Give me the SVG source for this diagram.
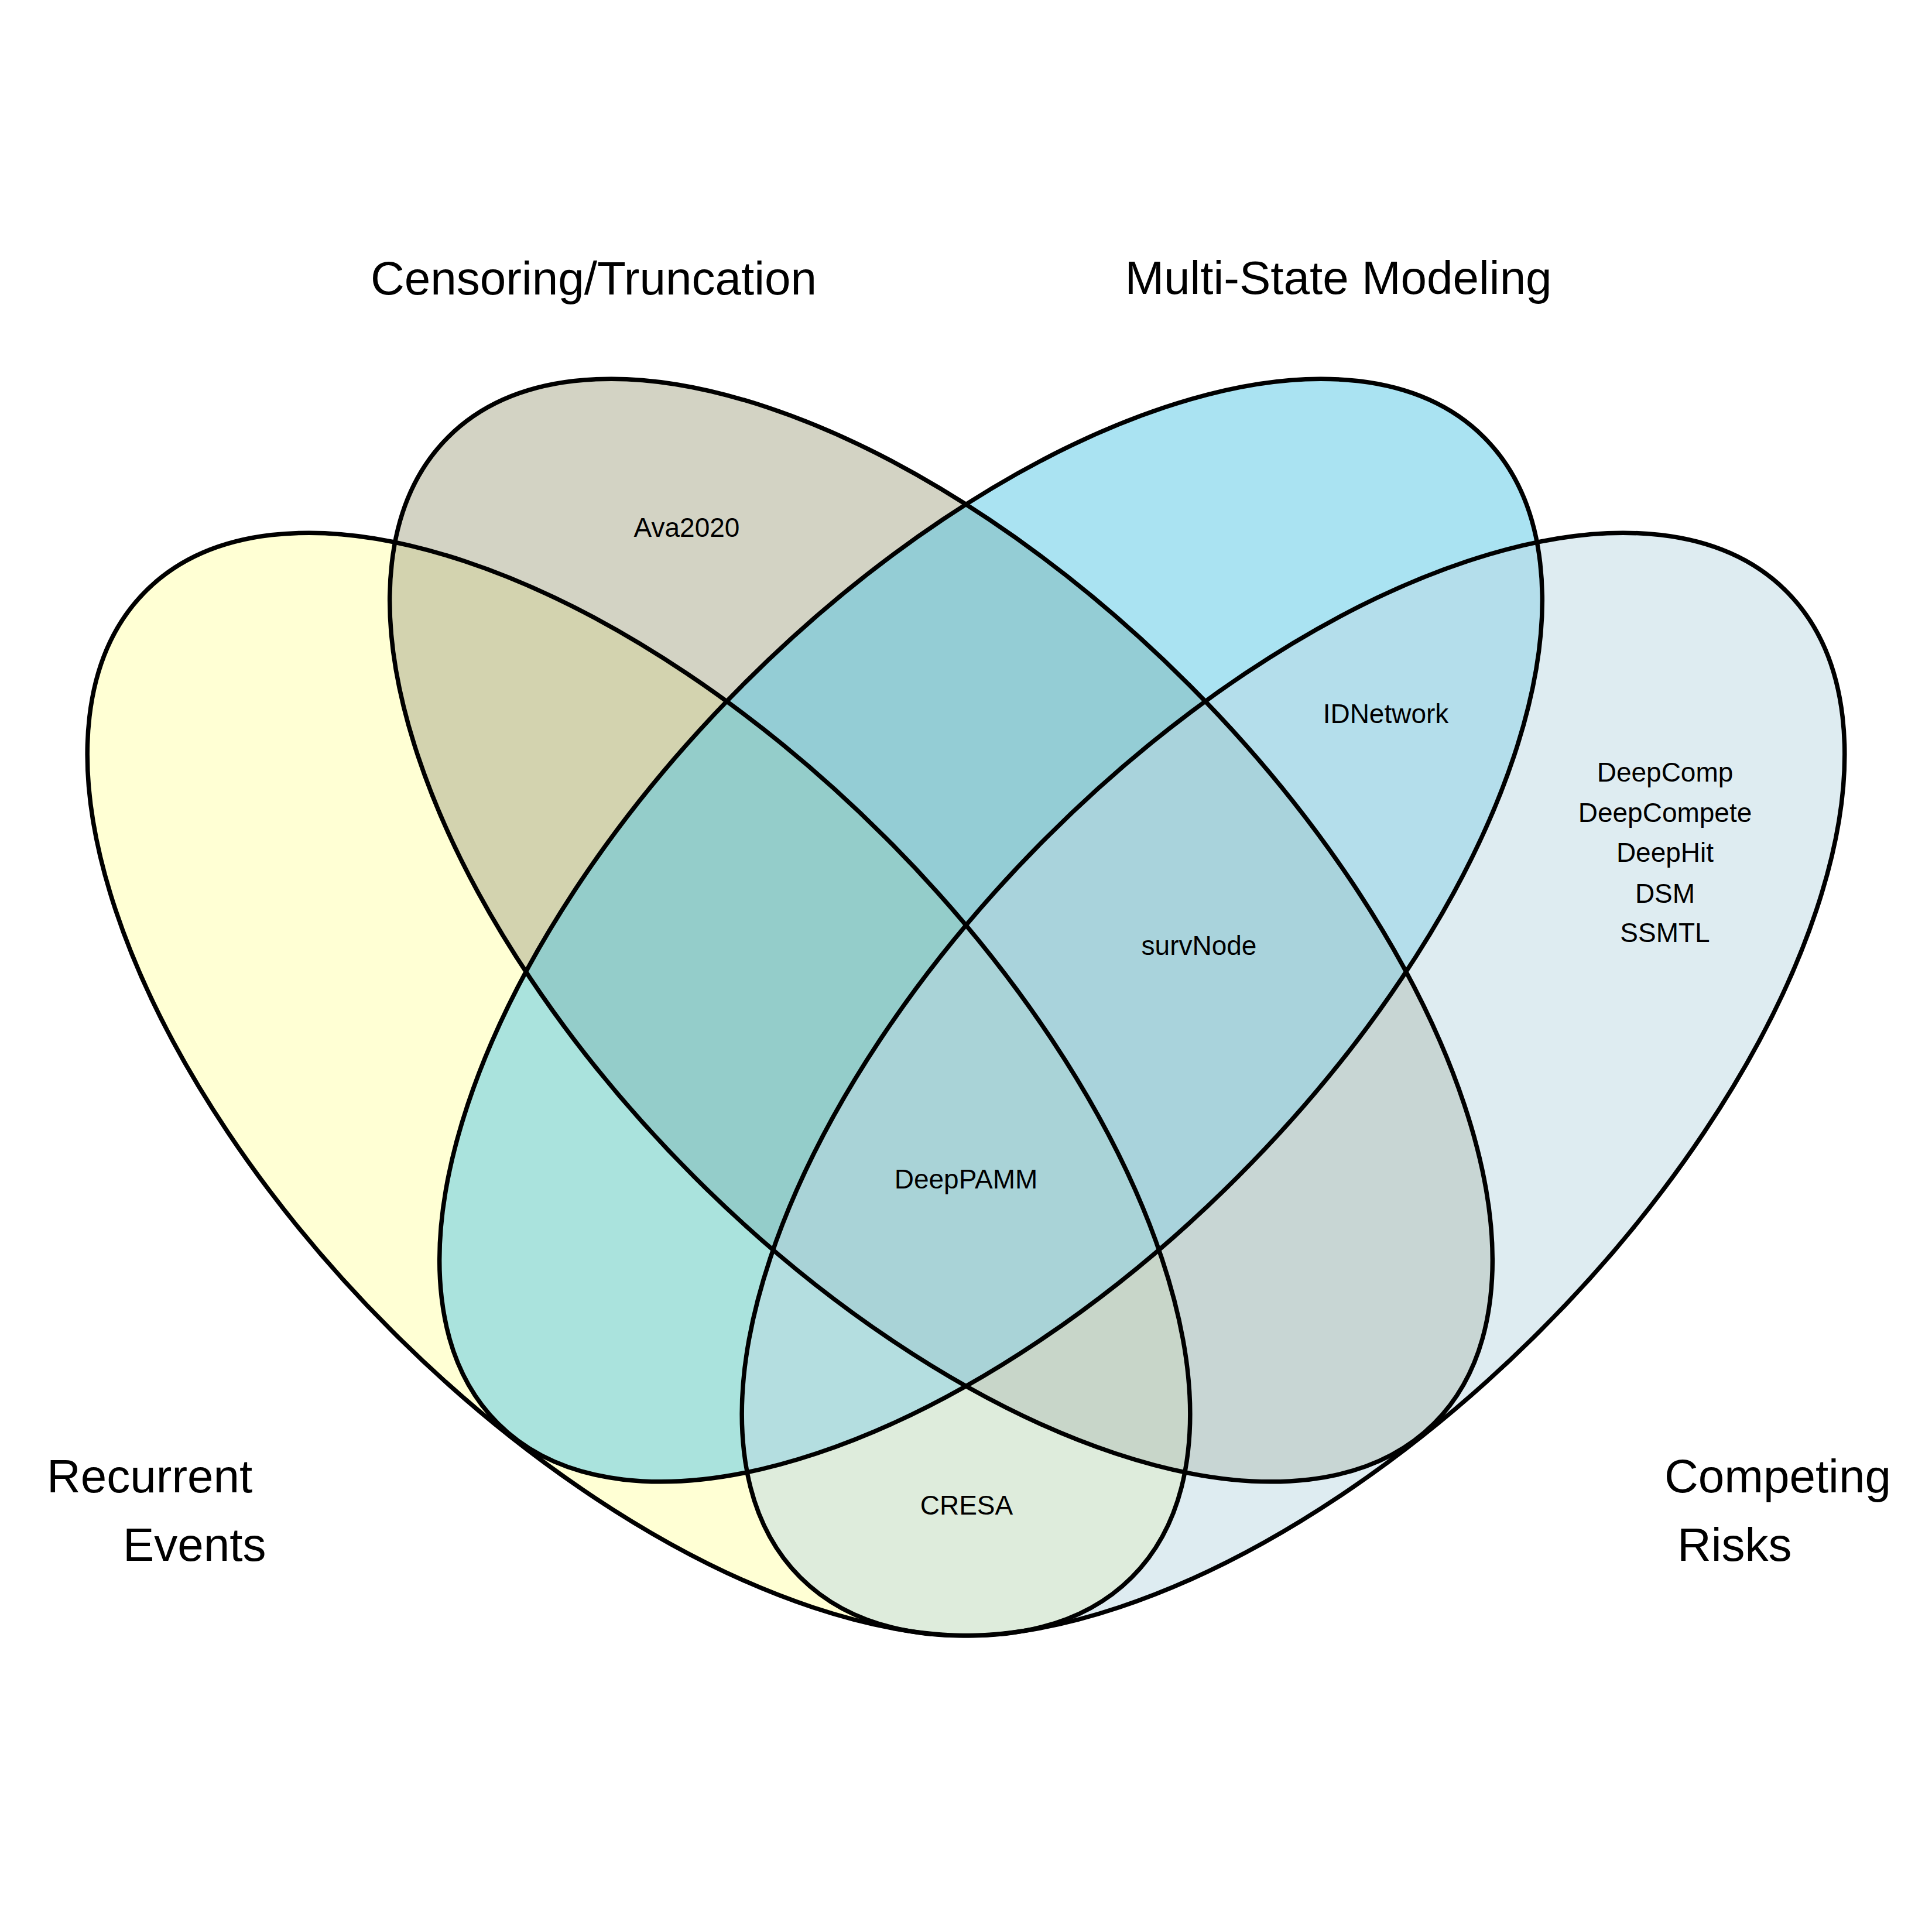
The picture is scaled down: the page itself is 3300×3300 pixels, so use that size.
<svg xmlns="http://www.w3.org/2000/svg" xmlns:xlink="http://www.w3.org/1999/xlink" width="3300" height="3300" viewBox="0 0 3300 3300">
  <style>
    .fill { fill-opacity: 0.5; stroke: none; }
    .outline { fill: none; stroke: #000000; stroke-width: 7.5; }
    .cat { font-family: "Liberation Sans", Arial, Helvetica, sans-serif; font-size: 80px; fill: #000000; }
    .lbl { font-family: "Liberation Sans", Arial, Helvetica, sans-serif; font-size: 46px; fill: #000000; text-anchor: middle; }
  </style>
  <defs>
    <ellipse id="shape-recurrent" cx="1091" cy="1852" rx="1191" ry="596" transform="rotate(45 1091 1852)"/>
    <ellipse id="shape-censoring" cx="1607.5" cy="1589" rx="1191" ry="596" transform="rotate(45 1607.5 1589)"/>
    <ellipse id="shape-multistate" cx="1692.5" cy="1589" rx="1191" ry="596" transform="rotate(-45 1692.5 1589)"/>
    <ellipse id="shape-competing" cx="2209" cy="1852" rx="1191" ry="596" transform="rotate(-45 2209 1852)"/>
  </defs>
  <rect x="0" y="0" width="3300" height="3300" fill="#FFFFFF"/>

  <g id="set-fills">
    <use id="fill-recurrent" xlink:href="#shape-recurrent" href="#shape-recurrent" class="fill" fill="#FFFFA9"/>
    <use id="fill-censoring" xlink:href="#shape-censoring" href="#shape-censoring" class="fill" fill="#A7A789"/>
    <use id="fill-multistate" xlink:href="#shape-multistate" href="#shape-multistate" class="fill" fill="#55C7E5"/>
    <use id="fill-competing" xlink:href="#shape-competing" href="#shape-competing" class="fill" fill="#BDD9E3"/>
  </g>

  <g id="set-outlines">
    <use xlink:href="#shape-recurrent" href="#shape-recurrent" class="outline"/>
    <use xlink:href="#shape-censoring" href="#shape-censoring" class="outline"/>
    <use xlink:href="#shape-multistate" href="#shape-multistate" class="outline"/>
    <use xlink:href="#shape-competing" href="#shape-competing" class="outline"/>
  </g>

  <g id="node-recurrent">
    <text class="cat" x="80" y="2549">Recurrent</text>
    <text class="cat" x="210" y="2666">Events</text>
  </g>
  <g id="node-censoring">
    <text class="cat" x="1014" y="503" text-anchor="middle">Censoring/Truncation</text>
  </g>
  <g id="node-multistate">
    <text class="cat" x="2286" y="502" text-anchor="middle">Multi-State Modeling</text>
  </g>
  <g id="node-competing">
    <text class="cat" x="2843" y="2549">Competing</text>
    <text class="cat" x="2865" y="2666">Risks</text>
  </g>

  <g id="region-labels">
    <g id="region-censoring-only"><text class="lbl" x="1173" y="917">Ava2020</text></g>
    <g id="region-multistate-competing"><text class="lbl" x="2367" y="1235">IDNetwork</text></g>
    <g id="region-competing-only">
      <text class="lbl" x="2844" y="1335">DeepComp</text>
      <text class="lbl" x="2844" y="1404">DeepCompete</text>
      <text class="lbl" x="2844" y="1472">DeepHit</text>
      <text class="lbl" x="2844" y="1542">DSM</text>
      <text class="lbl" x="2844" y="1609">SSMTL</text>
    </g>
    <g id="region-censoring-multistate-competing"><text class="lbl" x="2048" y="1631">survNode</text></g>
    <g id="region-all"><text class="lbl" x="1650" y="2030">DeepPAMM</text></g>
    <g id="region-recurrent-competing"><text class="lbl" x="1651" y="2587">CRESA</text></g>
  </g>
</svg>
